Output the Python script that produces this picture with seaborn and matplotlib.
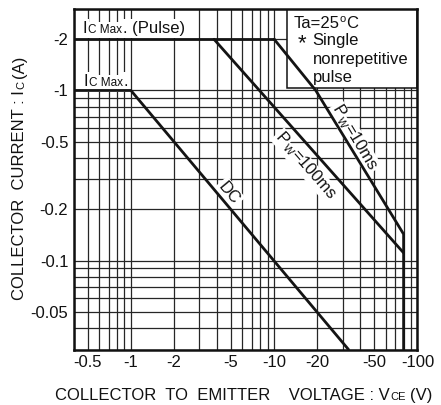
import numpy as np
import seaborn as sns
import matplotlib
matplotlib.use('Agg')
import matplotlib.pyplot as plt
from matplotlib.ticker import LogLocator, NullFormatter
from matplotlib.patches import Rectangle
from matplotlib.transforms import offset_copy
from matplotlib.font_manager import FontProperties

FONT = 'Liberation Sans'

# safe operating area, magnitudes (|VCE| in V, |IC| in A)
dc_v = [0.4, 1.0, 33.0]
dc_i = [1.0, 1.0, 0.03]
pulse_max_v = [0.4, 10.0]
pulse_max_i = [2.0, 2.0]
pw100_v = [3.8, 80.0]
pw100_i = [2.0, 0.111]
pw10_v = [10.0, 19.5, 80.0, 80.0]
pw10_i = [2.0, 1.0, 0.143, 0.03]

x_ticks = [0.5, 1, 2, 5, 10, 20, 50, 100]
x_labels = ['-0.5', '-1', '-2', '-5', '-10', '-20', '-50', '-100']
y_ticks = [0.05, 0.1, 0.2, 0.5, 1, 2]
y_labels = ['-0.05', '-0.1', '-0.2', '-0.5', '-1', '-2']

sns.set_style('white')
plt.rcParams['font.family'] = [FONT, 'DejaVu Sans']

fig = plt.figure(figsize=(4.41, 4.05), dpi=100)
ax = fig.add_axes([0.1676, 0.137, 0.7791, 0.840])
ax.set_xscale('log')
ax.set_yscale('log')

line_kw = dict(color='#141414', lw=2.0, sort=False, estimator=None, zorder=3)
for v, i in [(dc_v, dc_i), (pulse_max_v, pulse_max_i),
             (pw100_v, pw100_i), (pw10_v, pw10_i)]:
    sns.lineplot(x=v, y=i, ax=ax, **line_kw)

ax.set_xlim(0.4, 100)
ax.set_ylim(0.03, 3)
ax.set_xticks(x_ticks, x_labels)
ax.set_yticks(y_ticks, y_labels)
for axis in (ax.xaxis, ax.yaxis):
    axis.set_minor_locator(LogLocator(base=10, subs=np.arange(1, 10), numticks=100))
    axis.set_minor_formatter(NullFormatter())
ax.grid(True, which='both', color='#262626', lw=0.9)
ax.set_axisbelow(True)
ax.tick_params(which='both', length=0, labelsize=12, pad=4, colors='#111')
ax.set_xlabel('')
ax.set_ylabel('')
for s in ax.spines.values():
    s.set_linewidth(1.8)
    s.set_color('#111')

# condition box in the top right corner
ax.add_patch(Rectangle((0.621, 0.7696), 0.379, 0.2304, transform=ax.transAxes,
                       fc='white', ec='#111', lw=1.1, zorder=2))

renderer = fig.canvas.get_renderer()


def rich(x, y, parts, coords, rot=0, ha='left', vcenter=False, bg=False, z=2.5):
    """draw text made of pieces with own size/rise, laid along one baseline"""
    base = {'data': ax.transData, 'axes': ax.transAxes, 'fig': fig.transFigure}[coords]
    widths = []
    for s, size, rise, gap in parts:
        w, h, d = renderer.get_text_width_height_descent(
            s, FontProperties(family=FONT, size=size), ismath=False)
        widths.append(w + gap)
    total = sum(widths)
    th = np.radians(rot)
    c, sn = np.cos(th), np.sin(th)
    shift = -0.36 * parts[0][1] * fig.dpi / 72 if vcenter else 0.0
    passes = [('bg', z - 0.01), ('fg', z)] if bg else [('fg', z)]
    for kind, zz in passes:
        pos = -total / 2 if ha == 'center' else 0.0
        for (s, size, rise, gap), w in zip(parts, widths):
            r = rise + shift
            tr = offset_copy(base, fig=fig, x=pos * c - r * sn, y=pos * sn + r * c,
                             units='dots')
            kw = dict(transform=tr, fontsize=size, family=FONT, rotation=rot,
                      rotation_mode='anchor', ha='left', va='baseline', zorder=zz,
                      clip_on=False)
            if kind == 'bg':
                ax.text(x, y, s, color='white',
                        bbox=dict(fc='white', ec='none', pad=1.5), **kw)
            else:
                ax.text(x, y, s, color='#111', **kw)
            pos += w


rich(0.0256, 0.9295, [('I', 12, 0, 1), ('C Max', 8.5, 0, 0.5), ('. (Pulse)', 12, 0, 0)],
     'axes', bg=True)
rich(0.465, 1.0, [('I', 12, 4, 1), ('C Max', 8.5, 4, 0.5), ('.', 12, 4, 0)],
     'data', bg=True)

rich(0.6406, 0.946, [('Ta=25', 12, 0, -0.5), ('o', 8, 6, 0), ('C', 12, 0, 0)], 'axes', z=4)
rich(0.6500, 0.884, [('*', 16, 0, 0)], 'axes', z=4)
rich(0.695, 0.895, [('Single', 12, 0, 0)], 'axes', z=4)
rich(0.695, 0.840, [('nonrepetitive', 12, 0, 0)], 'axes', z=4)
rich(0.695, 0.787, [('pulse', 12, 0, 0)], 'axes', z=4)

rich(4.94, 0.253, [('DC', 12, 0, 0)], 'data', rot=-50, ha='center', vcenter=True, bg=True)
rich(16.8, 0.364, [('P', 12, 0, 0.5), ('W', 8, -1.5, 0.5), ('=100ms', 12, 0, 0)],
     'data', rot=-49, ha='center', vcenter=True, bg=True)
rich(37.0, 0.532, [('P', 12, 0, 0.5), ('W', 8, -1.5, 0.5), ('=10ms', 12, 0, 0)],
     'data', rot=-59, ha='center', vcenter=True, bg=True)

rich(0.1247, 0.0123, [('COLLECTOR  TO  EMITTER    VOLTAGE : V', 12, 0, 1),
                      ('CE', 8, 0, 4), ('(V)', 12, 0, 0)], 'fig')
rich(0.0544, 0.259, [('COLLECTOR  CURRENT : I', 12, 0, 1), ('C', 8, 0, 3),
                     ('(A)', 12, 0, 0)], 'fig', rot=90)

fig.savefig('out.png', dpi=100)
